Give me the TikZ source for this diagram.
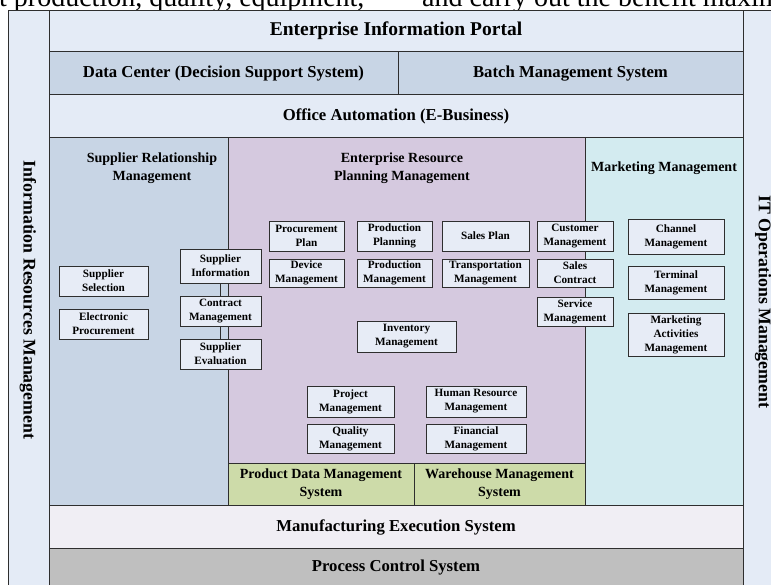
\documentclass[tikz,border=0pt]{standalone}
\usepackage{fontspec}
\setmainfont{Liberation Serif}
\definecolor{lb}{HTML}{E4EBF6}
\definecolor{sb}{HTML}{C8D5E5}
\definecolor{erp}{HTML}{D5C9DF}
\definecolor{mk}{HTML}{D3EBF0}
\definecolor{gr}{HTML}{CDDBA9}
\definecolor{mes}{HTML}{F0EEF4}
\definecolor{pcs}{HTML}{BFBFBF}
\definecolor{bx}{HTML}{E7ECF6}
\definecolor{ln}{HTML}{2E2E2E}
\begin{document}
\begin{tikzpicture}[x=1pt,y=-1pt,
 area/.style={draw=ln,line width=1pt},
 hdr/.style={font=\bfseries\fontsize{16.7}{19}\selectfont,inner sep=0pt},
 side/.style={font=\bfseries\fontsize{17.8}{20}\selectfont,inner sep=0pt,rotate=-90},
 ttl/.style={font=\bfseries\fontsize{14}{18}\selectfont,align=center,inner sep=0pt},
 sbox/.style={draw=ln,fill=bx,line width=0.95pt,font=\bfseries\fontsize{11.2}{14}\selectfont,align=center,inner sep=0pt},
 capt/.style={font=\fontsize{28}{32}\selectfont,inner sep=0pt,anchor=base west},
 link/.style={draw=ln,line width=0.9pt}]
\useasboundingbox (0,0) rectangle (771,585);
\begin{scope}
\clip (0,0) rectangle (771,585);
\fill[white] (0,0) rectangle (771,585);
% caption fragment
\node[capt] (c1) at (-1,7) {t production, quality, equipment,};
\node[capt] (c2) at (422,7) {and carry out the benefit maximization};
% side columns
\path[area,fill=lb] (8,11) rectangle (49,600);
\path[area,fill=lb] (743,11) rectangle (786,600);
% top rows
\path[area,fill=lb] (49,11) rectangle (743,52);
\path[area,fill=sb] (49,52) rectangle (398,95);
\path[area,fill=sb] (398,52) rectangle (743,95);
\path[area,fill=lb] (49,95) rectangle (743,138);
% middle regions
\path[area,fill=sb] (49,138) rectangle (228,505);
\path[area,fill=erp] (228,138) rectangle (585,463);
\path[area,fill=gr] (228,463) rectangle (414,505);
\path[area,fill=gr] (414,463) rectangle (585,505);
\path[area,fill=mk] (585,138) rectangle (743,505);
% bottom rows
\path[area,fill=mes] (49,505) rectangle (743,548);
\path[area,fill=pcs] (49,548) rectangle (743,600);
% labels
\node[hdr,font=\bfseries\fontsize{19.5}{22}\selectfont] (eip) at (396,31) {Enterprise Information Portal};
\node[hdr] (dc) at (223.5,73.5) {Data Center (Decision Support System)};
\node[hdr] (bms) at (570.5,73.5) {Batch Management System};
\node[hdr] (oa) at (396,116.5) {Office Automation (E-Business)};
\node[side] (irm) at (28,300) {Information Resources Management};
\node[side] (itm) at (763,302) {IT Operations Management};
\node[ttl] (srm) at (152,168) {Supplier Relationship\\Management};
\node[ttl] (erpt) at (402,168) {Enterprise Resource\\Planning Management};
\node[ttl] (mmt) at (664,168) {Marketing Management};
\node[ttl] (pdm) at (321,484) {Product Data Management\\System};
\node[ttl] (wms) at (499.5,484) {Warehouse Management\\System};
\node[hdr] (mesl) at (396,527) {Manufacturing Execution System};
\node[hdr] (pcsl) at (396,568) {Process Control System};
% small boxes
\node[sbox,minimum width=75pt,minimum height=30pt] (pp) at (306.5,236) {Procurement\\Plan};
\node[sbox,minimum width=75pt,minimum height=30pt] (ppl) at (394.5,236) {Production\\Planning};
\node[sbox,minimum width=87pt,minimum height=30pt] (spl) at (485.5,236) {Sales Plan};
\node[sbox,minimum width=75pt,minimum height=28pt] (dm) at (306.5,273) {Device\\Management};
\node[sbox,minimum width=75pt,minimum height=28pt] (pm) at (394.5,273) {Production\\Management};
\node[sbox,minimum width=87pt,minimum height=28pt] (tm) at (485.5,273) {Transportation\\Management};
\node[sbox,minimum width=76pt,minimum height=30pt] (cum) at (575,236) {Customer\\Management};
\node[sbox,minimum width=76pt,minimum height=28pt] (sc) at (575,273) {Sales\\Contract};
\node[sbox,minimum width=76pt,minimum height=29pt] (svm) at (575,311.5) {Service\\Management};
\node[sbox,minimum width=96pt,minimum height=35pt] (chm) at (676,236.5) {Channel\\Management};
\node[sbox,minimum width=96pt,minimum height=33pt] (tem) at (676,282.5) {Terminal\\Management};
\node[sbox,minimum width=96pt,minimum height=43pt] (mam) at (676,334.5) {Marketing\\Activities\\Management};
\node[sbox,minimum width=81pt,minimum height=34pt] (si) at (220.5,266) {Supplier\\Information};
\node[sbox,minimum width=81pt,minimum height=30pt] (cm) at (220.5,311) {Contract\\Management};
\node[sbox,minimum width=81pt,minimum height=30pt] (se) at (220.5,354) {Supplier\\Evaluation};
\node[sbox,minimum width=89pt,minimum height=30pt] (ss) at (103.5,281) {Supplier\\Selection};
\node[sbox,minimum width=89pt,minimum height=30pt] (ep) at (103.5,324) {Electronic\\Procurement};
\node[sbox,minimum width=99pt,minimum height=31pt] (im) at (406.5,336.5) {Inventory\\Management};
\node[sbox,minimum width=87pt,minimum height=31pt] (prm) at (350.5,401.5) {Project\\Management};
\node[sbox,minimum width=87pt,minimum height=29pt] (qm) at (350.5,438.5) {Quality\\Management};
\node[sbox,minimum width=100pt,minimum height=31pt] (hrm) at (476,401.5) {Human Resource\\Management};
\node[sbox,minimum width=100pt,minimum height=29pt] (fm) at (476,438.5) {Financial\\Management};
% connectors
\path[link] (si) -- (cm);
\path[link] (cm) -- (se);
\end{scope}
\end{tikzpicture}
\end{document}
